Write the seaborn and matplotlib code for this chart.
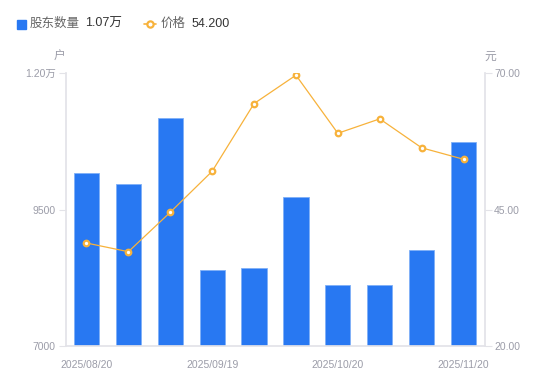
import matplotlib
matplotlib.use("Agg")
import matplotlib.pyplot as plt
from matplotlib.lines import Line2D
from matplotlib.patches import Rectangle
import seaborn as sns
import pandas as pd

dates = ["2025/08/20", "2025/08/31", "2025/09/10", "2025/09/19", "2025/09/30",
         "2025/10/10", "2025/10/20", "2025/10/31", "2025/11/10", "2025/11/20"]
holders = [10163, 9967, 11176, 8392, 8429, 9723, 8123, 8117, 8758, 10736]
prices = [38.86, 37.27, 44.49, 52.0, 64.4, 69.6, 58.96, 61.6, 56.3, 54.2]
left_ticks = [7000, 9500, 12000]
left_labels = ["7000", "9500", "1.20万"]
right_ticks = [20, 45, 70]
right_labels = ["20.00", "45.00", "70.00"]
shown_idx = [0, 3, 6, 9]

df = pd.DataFrame({"date": dates, "holders": holders, "price": prices})

sns.set_theme(style="white")
plt.rcParams["font.family"] = ["Liberation Sans", "Noto Sans CJK SC", "DejaVu Sans"]

BLUE = "#2878F2"
ORANGE = "#F7B23B"
GREY = "#9b9ca8"
AXIS = "#e3e3e8"

fig = plt.figure(figsize=(5.5, 3.81), dpi=100)
ax = fig.add_axes([65.5 / 550, 1 - 346 / 381, (484.5 - 65.5) / 550, (346 - 73) / 381])

sns.barplot(data=df, x="date", y="holders", ax=ax, color=BLUE, width=0.6,
            saturation=1, edgecolor="#7fb0f7", linewidth=0.6)
ax.set_ylim(7000, 12000)
ax.set_xlim(-0.5, len(dates) - 0.5)

ax2 = ax.twinx()
sns.pointplot(data=df, x="date", y="price", ax=ax2, color=ORANGE,
              markers="o", linestyles="-", linewidth=0.9, markersize=4,
              markerfacecolor="white", markeredgecolor=ORANGE, markeredgewidth=1.6)
ax2.set_ylim(20, 70)
ax2.set_xlim(-0.5, len(dates) - 0.5)

for a in (ax, ax2):
    for s in a.spines.values():
        s.set_visible(False)
ax.spines["left"].set_visible(True)
ax.spines["left"].set_color(AXIS)
ax.spines["bottom"].set_visible(True)
ax.spines["bottom"].set_color(AXIS)
ax2.spines["right"].set_visible(True)
ax2.spines["right"].set_color(AXIS)

ax.set_yticks(left_ticks)
ax.set_yticklabels(left_labels)
ax2.set_yticks(right_ticks)
ax2.set_yticklabels(right_labels)
ax.set_xticks(shown_idx)
ax.set_xticklabels([dates[i] for i in shown_idx])
ax.tick_params(axis="y", left=True, length=5, width=0.8, color=AXIS, labelsize=7.5,
               labelcolor=GREY, pad=2)
ax2.tick_params(axis="y", right=True, length=5, width=0.8, color=AXIS, labelsize=7.5,
                labelcolor=GREY, pad=2)
ax.tick_params(axis="x", bottom=False, labelsize=7.5, labelcolor=GREY, pad=4)
ax.set_xlabel("")
ax.set_ylabel("")
ax2.set_xlabel("")
ax2.set_ylabel("")
ax.grid(False)
ax2.grid(False)

fig.text(60 / 550, 1 - 57 / 381, "户", ha="center", va="center", fontsize=8.5, color=GREY)
fig.text(490 / 550, 1 - 57 / 381, "元", ha="center", va="center", fontsize=8.5, color=GREY)

# legend
fig.patches.append(Rectangle((17 / 550, 1 - 29 / 381), 9 / 550, 9 / 381,
                             transform=fig.transFigure, color=BLUE, figure=fig))
fig.text(30 / 550, 1 - 24 / 381, "股东数量", ha="left", va="center", fontsize=9, color="#666666")
fig.text(85 / 550, 1 - 24 / 381, f"{holders[-1] / 10000:.2f}万", ha="left", va="center",
         fontsize=9, color="#333333")
fig.lines.append(Line2D([144 / 550, 156 / 550], [1 - 24 / 381, 1 - 24 / 381],
                        transform=fig.transFigure, color=ORANGE, linewidth=1.2, figure=fig))
fig.lines.append(Line2D([150 / 550], [1 - 24 / 381], transform=fig.transFigure,
                        color=ORANGE, marker="o", markersize=4.5, markerfacecolor="white",
                        markeredgewidth=1.6, linestyle="none", figure=fig))
fig.text(161 / 550, 1 - 24 / 381, "价格", ha="left", va="center", fontsize=9, color="#666666")
fig.text(192 / 550, 1 - 24 / 381, f"{prices[-1]:.3f}", ha="left", va="center",
         fontsize=9, color="#333333")

fig.savefig("out.png", dpi=100)
